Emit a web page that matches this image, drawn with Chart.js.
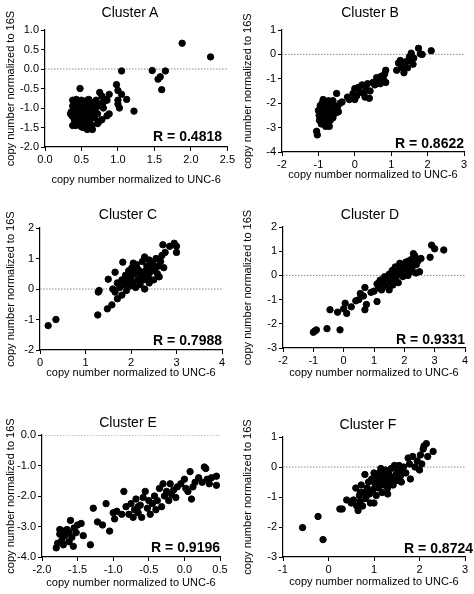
<!DOCTYPE html>
<html><head><meta charset="utf-8">
<script src="https://cdn.jsdelivr.net/npm/chart.js@4"></script>
<style>
body{margin:0;background:#fff;width:474px;height:594px;position:relative;overflow:hidden;font-family:"Liberation Sans",Arial,sans-serif}
canvas{position:absolute;left:0;top:0}
.t{position:absolute;font-size:14px;text-align:center;width:200px}
.r{position:absolute;font-size:14px;font-weight:bold;white-space:nowrap}
</style></head><body>
<script>
const titles=["Cluster A","Cluster B","Cluster C","Cluster D","Cluster E","Cluster F"];
const rLabels=["R = 0.4818","R = 0.8622","R = 0.7988","R = 0.9331","R = 0.9196","R = 0.8724"];
const xTitle="copy number normalized to UNC-6";
const yTitle="copy number normalized to 16S";
const xRanges=[[0,2.5,0.5],[-2,3,1],[0,4,1],[-2,4,1],[-2,0.5,0.5],[-1,3,1]];
const yRanges=[[-2,1,0.5],[-4,1,1],[-2,2,1],[-3,2,1],[-4,0,1],[-3,1,1]];
const decimals=[1,0,0,0,1,0];
const clusterA=[[0.48,-0.5],[1.05,-0.05],[0.98,-0.4],[1.0,-0.55],[1.05,-0.65],[1.12,-0.78],[1.0,-0.8],[1.0,-0.9],[1.02,-1.0],[1.22,-1.08],[1.47,-0.04],[1.55,-0.26],[1.58,-0.2],[1.6,-0.53],[1.65,-0.05],[1.88,0.66],[2.27,0.31],[0.88,-0.65],[0.82,-0.78],[0.85,-1.2],[0.8,-1.0],[0.75,-0.6],[0.72,-1.4],
[0.38,-0.8],[0.38,-0.95],[0.36,-1.1],[0.37,-1.2],[0.4,-1.3],[0.38,-1.45],[0.42,-1.45],[0.42,-1.0],[0.44,-0.85],[0.45,-1.15],[0.46,-1.3],[0.48,-1.4],[0.5,-0.8],[0.5,-1.0],[0.5,-1.1],[0.52,-1.25],[0.52,-1.5],[0.55,-0.9],[0.55,-1.05],[0.56,-1.2],[0.55,-1.35],[0.58,-0.8],[0.58,-1.55],[0.6,-1.0],[0.6,-1.15],[0.62,-1.3],[0.62,-0.85],[0.64,-1.45],[0.65,-1.55],[0.65,-0.95],[0.66,-1.1],[0.68,-1.25],[0.7,-0.8],[0.7,-1.0],[0.72,-1.15],[0.75,-0.9],[0.78,-0.7],[0.78,-1.3],[0.8,-0.85],[0.85,-0.8],[0.88,-1.15],[0.45,-0.95],[0.4,-1.05],[0.47,-1.2],[0.53,-0.95],[0.57,-1.4],[0.63,-1.2],[0.67,-1.0],[0.72,-0.95],[0.43,-0.78],[0.6,-0.78],[0.5,-1.48],[0.35,-1.15],[0.74,-1.35]];
const clusterB=[[-1.05,-3.15],[-1.03,-3.3],[-1.0,-2.3],[-0.98,-2.5],[-0.97,-2.7],[-0.95,-2.2],[-0.93,-2.4],[-0.92,-2.85],[-0.9,-2.6],[-0.9,-2.0],[-0.88,-2.3],[-0.87,-1.85],[-0.85,-2.5],[-0.84,-2.75],[-0.82,-2.2],[-0.8,-2.45],[-0.8,-2.95],[-0.78,-2.05],[-0.77,-2.6],[-0.75,-2.3],[-0.74,-2.85],[-0.72,-1.9],[-0.7,-2.5],[-0.68,-2.2],[-0.67,-2.7],[-0.65,-2.0],[-0.63,-2.4],[-0.6,-1.9],[-0.6,-2.6],[-0.58,-2.25],[-0.55,-2.1],[-0.52,-2.4],[-0.5,-1.6],[-0.48,-2.2],[-0.45,-2.35],[-0.4,-2.0],[-0.35,-1.95],[-0.2,-1.75],[-0.15,-1.85],[-0.05,-1.6],[0.0,-1.85],[0.0,-1.4],[0.05,-1.7],[0.1,-1.35],[0.15,-1.55],[0.2,-1.25],[0.25,-1.6],[0.28,-1.75],[0.3,-1.35],[0.35,-1.2],[0.4,-1.8],[0.42,-1.5],[0.5,-1.15],[0.55,-1.25],[0.6,-0.95],[0.65,-1.1],[0.7,-1.2],[0.72,-0.9],[0.8,-1.05],[0.82,-0.8],[0.85,-0.65],[0.85,-1.15],[1.15,-0.65],[1.2,-0.35],[1.25,-0.25],[1.28,-0.55],[1.3,-0.45],[1.35,-0.75],[1.4,-0.3],[1.45,-0.55],[1.5,-0.1],[1.52,-0.25],[1.55,0.05],[1.6,-0.4],[1.62,-0.15],[1.75,0.25],[1.8,0.02],[1.85,0.0],[2.1,0.15],[-0.95,-2.1],[-0.85,-2.05],[-0.7,-2.95]];
const clusterC=[[0.18,-1.2],[0.35,-1.0],[1.27,-0.85],[1.28,-0.1],[1.3,-0.05],[1.48,-0.65],[1.58,-0.52],[1.5,0.32],[1.65,0.55],[1.7,-0.32],[1.8,-0.2],[1.82,0.88],[1.6,0.0],[1.65,-0.1],[1.7,0.2],[1.75,0.05],[1.8,0.3],[1.85,0.15],[1.88,0.45],[1.9,-0.05],[1.92,0.25],[1.95,0.6],[1.98,0.1],[2.0,0.35],[2.02,0.7],[2.05,0.2],[2.08,0.5],[2.1,0.05],[2.12,0.8],[2.15,0.3],[2.18,0.6],[2.2,0.15],[2.22,0.45],[2.25,0.9],[2.28,0.3],[2.3,1.05],[2.3,0.0],[2.32,0.6],[2.35,0.75],[2.38,0.4],[2.4,0.95],[2.42,0.55],[2.45,0.7],[2.48,0.85],[2.5,0.3],[2.52,0.6],[2.55,1.0],[2.58,0.5],[2.6,0.75],[2.62,0.4],[2.65,0.9],[2.68,1.1],[2.7,1.45],[2.72,0.7],[2.75,1.2],[2.85,1.4],[2.95,1.5],[3.0,1.2],[3.0,1.4],[2.0,0.55],[2.15,0.65],[2.25,0.5],[2.4,0.2],[1.95,0.4],[2.05,0.85],[2.35,0.35]];
const clusterD=[[-1.0,-2.35],[-0.95,-2.3],[-0.9,-2.25],[-0.55,-2.2],[-0.12,-2.25],[-0.45,-1.42],[-0.2,-1.52],[0.0,-1.38],[0.05,-1.15],[0.1,-1.57],[0.25,-1.3],[0.4,-1.05],[0.5,-1.0],[0.55,-0.75],[0.65,-0.85],[0.7,-1.42],[0.75,-1.2],[0.7,-0.5],[0.9,-0.7],[1.0,-0.65],[1.1,-1.08],[1.1,-0.35],[1.15,-0.5],[1.2,-0.2],[1.25,-0.6],[1.3,-0.3],[1.35,-0.05],[1.4,-0.45],[1.45,-0.15],[1.5,0.05],[1.5,-0.6],[1.55,-0.25],[1.6,0.2],[1.62,-0.4],[1.65,0.0],[1.7,0.35],[1.72,-0.1],[1.75,0.15],[1.8,-0.3],[1.82,0.3],[1.85,0.05],[1.9,0.45],[1.92,0.2],[1.95,-0.05],[2.0,0.35],[2.02,0.1],[2.05,0.55],[2.1,0.25],[2.12,0.0],[2.15,0.4],[2.2,0.15],[2.22,0.65],[2.25,0.3],[2.3,0.5],[2.35,0.8],[2.38,0.1],[2.4,0.45],[2.45,0.6],[2.5,0.15],[2.55,0.7],[2.9,1.25],[3.0,1.1],[3.3,1.05],[2.85,0.75],[1.3,-0.15],[1.6,-0.2],[1.85,0.5],[2.0,0.0],[2.15,0.6],[2.3,0.9],[1.2,-0.45]];
const clusterE=[[-1.8,-3.7],[-1.78,-3.55],[-1.75,-3.1],[-1.72,-3.45],[-1.7,-3.6],[-1.68,-3.3],[-1.65,-3.1],[-1.62,-3.5],[-1.6,-2.8],[-1.58,-3.35],[-1.56,-3.65],[-1.55,-3.05],[-1.52,-3.2],[-1.5,-2.95],[-1.45,-2.9],[-1.42,-3.3],[-1.32,-3.6],[-1.28,-2.4],[-1.22,-2.85],[-1.15,-2.95],[-1.1,-2.25],[-1.05,-3.15],[-1.0,-2.55],[-0.98,-2.75],[-0.95,-2.5],[-0.85,-1.85],[-0.82,-2.35],[-0.78,-2.6],[-0.75,-2.25],[-0.72,-2.7],[-0.7,-2.45],[-0.68,-2.1],[-0.65,-2.55],[-0.62,-2.3],[-0.6,-2.7],[-0.58,-2.05],[-0.55,-1.85],[-0.52,-2.4],[-0.5,-2.15],[-0.48,-2.6],[-0.45,-2.25],[-0.42,-2.0],[-0.4,-2.45],[-0.38,-2.15],[-0.35,-1.75],[-0.32,-2.35],[-0.3,-1.6],[-0.28,-2.0],[-0.25,-1.85],[-0.22,-2.15],[-0.2,-1.6],[-0.18,-1.95],[-0.15,-1.8],[-0.12,-2.05],[-0.1,-1.7],[-0.05,-1.6],[0.0,-1.45],[0.02,-1.75],[0.05,-1.85],[0.08,-1.2],[0.1,-2.1],[0.12,-1.7],[0.15,-1.55],[0.2,-1.4],[0.25,-1.55],[0.28,-1.05],[0.3,-1.1],[0.32,-1.45],[0.35,-1.6],[0.38,-1.4],[0.45,-1.35],[0.45,-1.65],[-1.7,-3.15],[-1.62,-3.2],[-1.75,-3.25],[-0.88,-2.6],[-0.65,-2.35]];
const clusterF=[[-0.57,-2.02],[-0.23,-1.65],[-0.12,-2.42],[0.25,-1.4],[0.3,-1.4],[0.4,-1.1],[0.5,-1.2],[0.55,-1.1],[0.6,-0.7],[0.62,-1.3],[0.65,-1.45],[0.68,-0.95],[0.7,-1.15],[0.72,-0.6],[0.75,-1.3],[0.78,-0.85],[0.8,-0.25],[0.82,-1.05],[0.85,-0.7],[0.88,-0.5],[0.9,-0.9],[0.92,-1.2],[0.95,-0.4],[0.98,-0.75],[1.0,-0.2],[1.02,-0.55],[1.05,-0.95],[1.08,-0.35],[1.1,-0.7],[1.12,-0.2],[1.15,-0.5],[1.18,-0.85],[1.2,-0.3],[1.22,-0.6],[1.25,-0.1],[1.28,-0.4],[1.3,-0.7],[1.32,-0.2],[1.35,-0.5],[1.38,-0.05],[1.4,-0.35],[1.42,-0.6],[1.45,0.0],[1.48,-0.25],[1.5,-0.45],[1.52,-0.1],[1.55,0.05],[1.58,-0.3],[1.6,-0.15],[1.65,0.0],[1.7,-0.2],[1.75,0.3],[1.78,0.1],[1.8,-0.4],[1.85,0.35],[1.9,0.0],[1.95,0.2],[2.0,-0.1],[2.02,0.4],[2.05,0.1],[2.08,0.6],[2.1,0.7],[2.15,0.78],[2.18,0.35],[2.3,0.52],[1.0,-1.2],[1.3,-0.9],[0.7,-0.85],[1.15,-0.05],[1.6,-0.5],[1.45,0.05]];
const clusters=[clusterA,clusterB,clusterC,clusterD,clusterE,clusterF];

const L=[
 {cl:0,ct:0,cw:237,ch:200,pl:45,pt:30,pr:228,pb:147,xh:44,tx:130,ty:4,rr:222,ry:128},
 {cl:237,ct:0,cw:237,ch:200,pl:282,pt:30,pr:464,pb:152,xh:34,tx:370,ty:4,rr:464,ry:135},
 {cl:0,ct:200,cw:237,ch:200,pl:40,pt:228,pr:222,pb:350,xh:34,tx:128,ty:206,rr:222,ry:332},
 {cl:237,ct:200,cw:237,ch:200,pl:283,pt:227,pr:465,pb:348,xh:36,tx:370,ty:206,rr:465,ry:331},
 {cl:0,ct:400,cw:237,ch:194,pl:42,pt:435,pr:220,pb:557,xh:37,tx:128,ty:414,rr:220,ry:539},
 {cl:237,ct:400,cw:237,ch:194,pl:283,pt:437,pr:465,pb:557,xh:36,tx:368,ty:416,rr:473,ry:540}
];
const F="'Liberation Sans', Arial, sans-serif";
clusters.forEach((pts,i)=>{
 const g=L[i];
 const d=document.createElement('div');
 d.style.cssText='position:absolute;left:'+g.cl+'px;top:'+g.ct+'px;width:'+g.cw+'px;height:'+g.ch+'px';
 const cv=document.createElement('canvas');
 cv.width=g.cw;cv.height=g.ch;cv.style.width=g.cw+'px';cv.style.height=g.ch+'px';
 d.appendChild(cv);document.body.appendChild(d);
 const t=document.createElement('div');t.className='t';t.textContent=titles[i];t.style.left=(g.tx-100)+'px';t.style.top=g.ty+'px';document.body.appendChild(t);
 const r=document.createElement('div');r.className='r';r.textContent=rLabels[i];r.style.right=(474-g.rr)+'px';r.style.top=g.ry+'px';document.body.appendChild(r);
 const xr=xRanges[i],yr=yRanges[i],dec=decimals[i];
 const axis=(rng,title)=>({type:'linear',min:rng[0],max:rng[1],
   ticks:{stepSize:rng[2],color:'#000',font:{family:F,size:11},padding:2,callback:v=>Number(v).toFixed(dec)},
   grid:{display:true,drawOnChartArea:false,color:'#000',tickLength:4,lineWidth:1},
   border:{color:'#000',width:1.2},
   title:{display:true,text:title,color:'#000',font:{family:F,size:11},padding:4}});
 const xs=axis(xr,xTitle),ys=axis(yr,yTitle);
 const xh=g.xh,yw=g.pl-g.cl;
 xs.afterFit=s=>{s.height=xh};
 ys.afterFit=s=>{s.width=yw};
 new Chart(cv,{type:'scatter',
  data:{datasets:[
   {data:pts.map(p=>({x:p[0],y:p[1]})),backgroundColor:'#000',borderColor:'#000',pointRadius:3.2,pointHoverRadius:3.2},
   {type:'line',data:[{x:xr[0],y:0},{x:xr[1],y:0}],borderColor:'#888',borderWidth:1,borderDash:[1.5,1.5],pointRadius:0}
  ]},
  options:{responsive:false,animation:false,events:[],devicePixelRatio:1,
   layout:{padding:{left:0,top:g.pt-g.ct,right:g.cl+g.cw-g.pr,bottom:Math.max(0,g.ct+g.ch-g.pb-xh)}},
   plugins:{legend:{display:false},tooltip:{enabled:false}},
   scales:{x:xs,y:ys}}
 });
});
</script>
</body></html>
